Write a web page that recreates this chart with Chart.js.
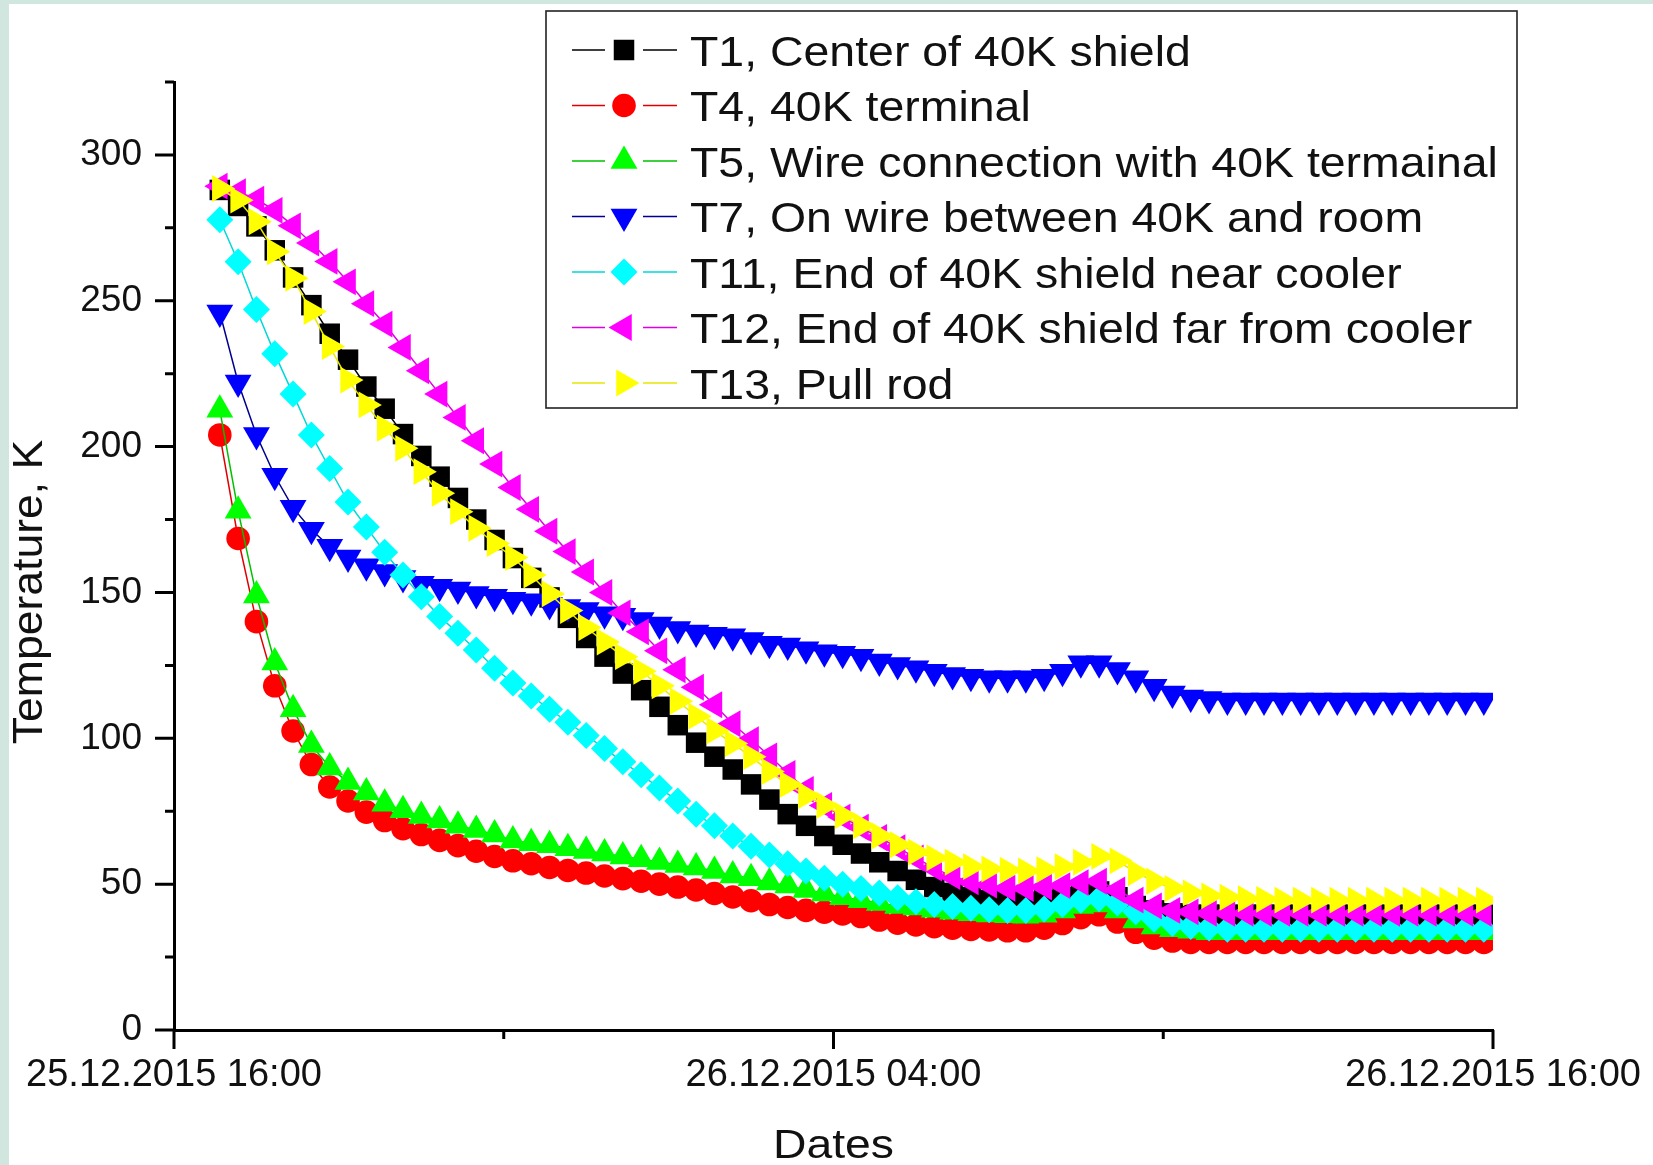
<!DOCTYPE html>
<html>
<head>
<meta charset="utf-8">
<script src="https://cdn.jsdelivr.net/npm/chart.js@4.4.0/dist/chart.umd.min.js"></script>
<style>
  html, body { margin: 0; padding: 0; background: #d0e6de; overflow: hidden; }
  #wrap { position: absolute; left: 9px; top: 4px; width: 1644px; height: 1161px; background: #fff; }
</style>
</head>
<body>
<div id="wrap"><canvas id="myChart"></canvas></div>
<script>
// readings every 20 min, 25.12.2015 16:50 -> 26.12.2015 15:50
var times = [
  '16:50','17:10','17:30','17:50','18:10','18:30','18:50','19:10','19:30','19:50',
  '20:10','20:30','20:50','21:10','21:30','21:50','22:10','22:30','22:50','23:10',
  '23:30','23:50','00:10','00:30','00:50','01:10','01:30','01:50','02:10','02:30',
  '02:50','03:10','03:30','03:50','04:10','04:30','04:50','05:10','05:30','05:50',
  '06:10','06:30','06:50','07:10','07:30','07:50','08:10','08:30','08:50','09:10',
  '09:30','09:50','10:10','10:30','10:50','11:10','11:30','11:50','12:10','12:30',
  '12:50','13:10','13:30','13:50','14:10','14:30','14:50','15:10','15:30','15:50'
];

var seriesLabels = [
  'T1, Center of 40K shield',
  'T4, 40K terminal',
  'T5, Wire connection with 40K termainal',
  'T7, On wire between 40K and room',
  'T11, End of 40K shield near cooler',
  'T12, End of 40K shield far from cooler',
  'T13, Pull rod'
];

var t1 = [288, 282.5, 275.5, 267.3, 258, 248.5, 238.7, 229.8, 220.6, 213,
  204.3, 196.8, 189.7, 182.4, 175, 168, 161.8, 155, 148.3, 141.3,
  134.4, 128, 122.2, 116.5, 110.8, 104.5, 98.5, 93.7, 89.3, 84.2,
  79, 74, 70, 66.5, 63.5, 60.5, 57.5, 54.5, 51.5, 49,
  47, 45.5, 44.5, 44, 44, 44.5, 45.5, 47, 47.5, 45.5,
  42.5, 41, 40, 39.5, 39.5, 39.5, 39.5, 39.5, 39.5, 39.5,
  39.5, 39.5, 39.5, 39.5, 39.5, 39.5, 39.5, 39.5, 39.5, 39.5];

var t4 = [204, 168.5, 140, 118, 102.5, 91, 83.3, 78.5, 74.7, 71.8,
  69, 67, 65, 63.2, 61.3, 59.5, 58, 57, 55.7, 54.7,
  53.8, 52.8, 51.9, 51, 50, 49, 48, 46.8, 45.6, 44.3,
  43, 42, 41, 40.4, 39.8, 38.9, 37.7, 36.6, 36, 35.4,
  34.9, 34.5, 34.3, 34, 34, 34.9, 36.5, 38.5, 39.5, 37,
  33.5, 31.5, 30.5, 30, 30, 30, 30, 30, 30, 30,
  30, 30, 30, 30, 30, 30, 30, 30, 30, 30];

var t5 = [212.6, 178, 149, 126, 110, 97.7, 90, 85, 81.4, 77.6,
  75.3, 73.4, 71.8, 70, 68.6, 67, 65, 64, 63.3, 62.3,
  61.4, 60.5, 59.5, 58.5, 57.6, 56.6, 55.7, 54.5, 53, 52,
  50.6, 49.5, 48, 46.8, 45.5, 44.5, 43.5, 42.5, 42, 41.2,
  40.5, 40, 39.6, 39.3, 39.2, 39.5, 41, 42.5, 43, 41,
  37.5, 35.5, 34.5, 34, 33.5, 33.5, 33.5, 33.5, 33.5, 33.5,
  33.5, 33.5, 33.5, 33.5, 33.5, 33.5, 33.5, 33.5, 33.5, 33.5];

var t7 = [246, 222, 204, 190, 179, 171.5, 165.7, 162, 159, 157,
  155, 153, 152, 151, 149.5, 148.5, 147.5, 147, 145.7, 145,
  144, 142.5, 142, 140.6, 139, 137.5, 136.3, 135.5, 135, 133.7,
  132.4, 131.8, 130.5, 129.5, 129, 128, 126.3, 125.1, 124, 122.8,
  121.7, 121.1, 120.6, 120.6, 120.6, 121.1, 122.8, 125.7, 125.7, 123.4,
  120.6, 117.7, 115.4, 114, 113.5, 113, 113, 113, 113, 113,
  113, 113, 113, 113, 113, 113, 113, 113, 113, 113];

var t11 = [277.8, 263.4, 247, 231.8, 218, 204, 192.5, 181, 172.4, 163.8,
  156, 148.5, 141.8, 136, 130.3, 124, 119, 114.5, 110, 105.5,
  101, 96.5, 92, 87.5, 83, 78.5, 74, 70, 66.5, 63,
  60, 57, 54.5, 52, 50, 48.5, 47, 45.3, 44, 43,
  42.3, 41.7, 41.2, 41, 41, 41.5, 43, 44.5, 45, 43.5,
  40.5, 38, 36.5, 35.5, 35, 34.5, 34.5, 34.5, 34.5, 34.5,
  34.5, 34.5, 34.5, 34.5, 34.5, 34.5, 34.5, 34.5, 34.5, 34.5];

var t12 = [289.3, 287.4, 284.8, 281, 275.7, 269.8, 263.5, 256.5, 249, 242,
  234, 226, 218, 210, 202, 194, 186, 178.5, 171, 164,
  157, 150, 143, 136.5, 130, 123.5, 117.5, 111.5, 105, 99.5,
  94, 88, 82.5, 77, 73, 69.5, 66, 62.5, 59, 55.5,
  52.6, 50.8, 49.7, 48.6, 48.5, 49, 49.5, 50.5, 51, 48,
  44.5, 42.5, 41, 40.5, 40, 40, 40, 40, 40, 40,
  40, 40, 40, 40, 40, 40, 40, 40, 40, 40];

var t13 = [288.5, 284.5, 277.1, 266.8, 257.7, 246.3, 234.3, 222.8, 214.3, 206.3,
  199.4, 191.4, 184, 177.7, 172, 166.8, 162, 156, 149.5, 143.8,
  138, 133, 128, 123, 118, 112.7, 107.6, 102.6, 98.2, 93.7,
  88.6, 84.2, 80.4, 77, 73.5, 70, 66.5, 63.5, 61, 59,
  57.5, 56, 55.2, 54.8, 54.5, 55, 56, 57.5, 59.5, 58,
  54, 51, 48.5, 47, 46, 45.5, 45, 44.8, 44.5, 44.5,
  44.5, 44.5, 44.5, 44.5, 44.5, 44.5, 44.5, 44.5, 44.5, 44.5];

var xTickLabels = ['25.12.2015 16:00', '', '26.12.2015 04:00', '', '26.12.2015 16:00'];
var yTickLabels = ['0', '50', '100', '150', '200', '250', '300'];
var xTitle = 'Dates';
var yTitle = 'Temperature, K';

// marker look for each series
var looks = [
  { color: '#000000', line: '#000000', style: 'rect',     rot: 0,   r: 14.5 },
  { color: '#ff0000', line: '#e00000', style: 'circle',   rot: 0,   r: 11.8 },
  { color: '#00ff00', line: '#00c000', style: 'triangle', rot: 0,   r: 15.5 },
  { color: '#0000ff', line: '#000090', style: 'triangle', rot: 180, r: 15.5 },
  { color: '#00ffff', line: '#00d8d8', style: 'rectRot',  rot: 0,   r: 13.5 },
  { color: '#ff00ff', line: '#e000e0', style: 'triangle', rot: 270, r: 15.5 },
  { color: '#ffff00', line: '#e8e800', style: 'triangle', rot: 90,  r: 15.5 }
];

var allSeries = [t1, t4, t5, t7, t11, t12, t13];

// hours after 25.12.2015 16:00
function toHours(t) {
  var p = t.split(':');
  var h = parseInt(p[0], 10) + parseInt(p[1], 10) / 60 - 16;
  return h < 0 ? h + 24 : h;
}

var datasets = allSeries.map(function (vals, k) {
  var lk = looks[k];
  return {
    label: seriesLabels[k],
    data: vals.map(function (v, j) { return { x: toHours(times[j]), y: v }; }),
    borderColor: lk.line,
    borderWidth: 1.5,
    backgroundColor: lk.color,
    pointStyle: lk.style,
    pointRotation: lk.rot,
    pointRadius: lk.r,
    pointHoverRadius: lk.r,
    pointBackgroundColor: lk.color,
    pointBorderWidth: 0,
    fill: false,
    tension: 0,
    order: allSeries.length - k
  };
});

function drawText(ctx, text, x, y, font, sx, angle) {
  ctx.save();
  ctx.translate(x, y);
  if (angle) ctx.rotate(angle);
  ctx.scale(sx, 1);
  ctx.font = font;
  ctx.fillStyle = '#111';
  ctx.textAlign = 'center';
  ctx.textBaseline = 'alphabetic';
  ctx.fillText(text, 0, 0);
  ctx.restore();
}

var decor = {
  id: 'decor',
  afterDraw: function (chart) {
    var ctx = chart.ctx;
    var area = chart.chartArea;
    var xs = chart.scales.x, ys = chart.scales.y;

    // tick marks: long ones where there is a label, short ones otherwise
    ctx.save();
    ctx.strokeStyle = '#000';
    ctx.lineWidth = 3;
    ctx.beginPath();
    ys.ticks.forEach(function (t) {
      var py = ys.getPixelForValue(t.value);
      var len = t.label ? 19 : 9;
      ctx.moveTo(area.left - len, py);
      ctx.lineTo(area.left, py);
    });
    xs.ticks.forEach(function (t) {
      var px = xs.getPixelForValue(t.value);
      var len = t.label ? 19 : 9;
      ctx.moveTo(px, area.bottom);
      ctx.lineTo(px, area.bottom + len);
    });
    ctx.stroke();
    ctx.restore();

    // axis titles
    drawText(ctx, xTitle, (area.left + area.right) / 2, chart.height - 7, '41px "Liberation Sans"', 1.13, 0);
    drawText(ctx, yTitle, 33, 588, '42px "Liberation Sans"', 1.06, -Math.PI / 2);

    // legend box
    var bx = 537, by = 7, bw = 971, bh = 397;
    ctx.save();
    ctx.fillStyle = '#fff';
    ctx.fillRect(bx, by, bw, bh);
    ctx.strokeStyle = '#222';
    ctx.lineWidth = 1.6;
    ctx.strokeRect(bx, by, bw, bh);
    var drawPoint = Chart.helpers && Chart.helpers.drawPoint;
    chart.data.datasets.forEach(function (ds, k) {
      var cy = 46 + k * 55.5;
      var mx = 615;
      ctx.strokeStyle = ds.borderColor;
      ctx.lineWidth = 1.5;
      ctx.beginPath();
      ctx.moveTo(563, cy); ctx.lineTo(596, cy);
      ctx.moveTo(634, cy); ctx.lineTo(668, cy);
      ctx.stroke();
      ctx.fillStyle = ds.pointBackgroundColor;
      if (drawPoint) {
        drawPoint(ctx, { pointStyle: ds.pointStyle, rotation: ds.pointRotation, radius: ds.pointRadius, borderWidth: 0 }, mx, cy);
      }
      ctx.save();
      ctx.translate(681, cy + 15.5);
      ctx.scale(1.08, 1);
      ctx.font = '43px "Liberation Sans"';
      ctx.fillStyle = '#111';
      ctx.textAlign = 'left';
      ctx.textBaseline = 'alphabetic';
      ctx.fillText(ds.label, 0, 0);
      ctx.restore();
    });
    ctx.restore();
  }
};

var ctx = document.getElementById('myChart').getContext('2d');
var myChart = new Chart(ctx, {
  type: 'line',
  data: { datasets: datasets },
  options: {
    responsive: true,
    maintainAspectRatio: false,
    animation: false,
    layout: { padding: { top: 78, right: 160, bottom: 0, left: 0 } },
    plugins: {
      legend: { display: false },
      tooltip: { enabled: false }
    },
    scales: {
      x: {
        type: 'linear',
        min: 0,
        max: 24,
        ticks: {
          stepSize: 6,
          autoSkip: false,
          maxRotation: 0,
          minRotation: 0,
          padding: 4,
          color: '#111',
          font: { family: 'Liberation Sans', size: 38 },
          callback: function (v, i) { return xTickLabels[i]; }
        },
        grid: { drawOnChartArea: false, tickLength: 19, tickColor: 'rgba(0,0,0,0)' },
        border: { color: '#000', width: 3 },
        afterFit: function (s) { s.height = 135; }
      },
      y: {
        type: 'linear',
        min: 0,
        max: 325,
        ticks: {
          stepSize: 25,
          autoSkip: false,
          padding: 13,
          color: '#111',
          font: { family: 'Liberation Sans', size: 37 },
          callback: function (v) { return v % 50 === 0 ? yTickLabels[v / 50] : ''; }
        },
        grid: { drawOnChartArea: false, tickLength: 19, tickColor: 'rgba(0,0,0,0)' },
        border: { color: '#000', width: 3 },
        afterFit: function (s) { s.width = 165; }
      }
    }
  },
  plugins: [decor]
});
</script>
</body>
</html>
